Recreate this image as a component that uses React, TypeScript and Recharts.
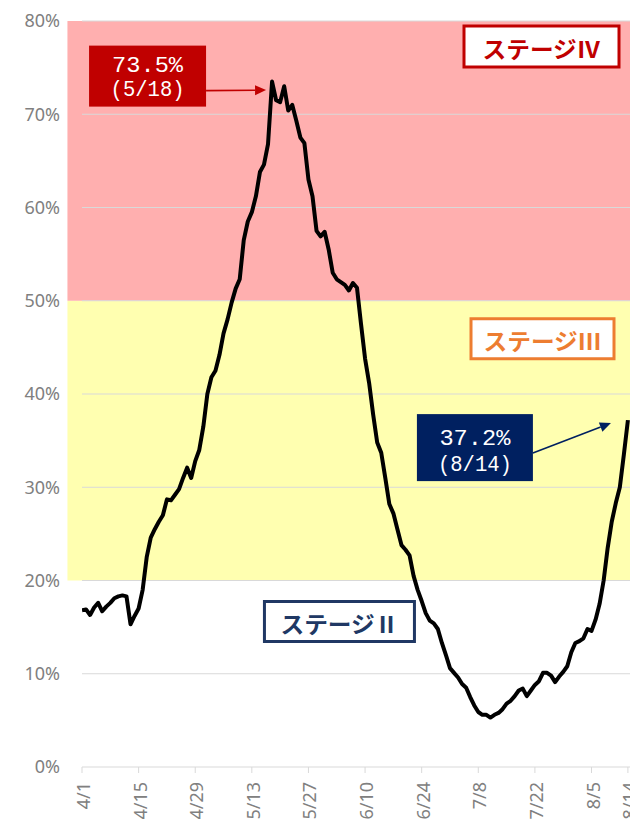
import React from 'react';
import { LineChart, Line, XAxis, YAxis, ReferenceArea, ReferenceLine, ReferenceDot } from 'recharts';

// daily rate (%) from 4/1 to 8/14
const rates = [
  16.8, 16.9, 16.3, 17.1, 17.6, 16.7, 17.2, 17.6, 18.1, 18.3,
  18.4, 18.3, 15.3, 16.2, 17.0, 19.0, 22.5, 24.6, 25.5, 26.3,
  27.0, 28.7, 28.6, 29.2, 29.8, 31.0, 32.1, 31.0, 32.8, 34.0,
  36.5, 40.0, 41.8, 42.5, 44.2, 46.5, 48.0, 49.8, 51.3, 52.3,
  56.5, 58.5, 59.5, 61.2, 63.8, 64.6, 66.8, 73.5, 71.5, 71.3,
  73.0, 70.4, 71.0, 69.3, 67.5, 66.9, 63.0, 61.2, 57.5, 56.9,
  57.4, 55.5, 53.0, 52.3, 52.0, 51.7, 51.1, 51.9, 51.4, 47.5,
  43.8, 41.2, 37.8, 34.8, 33.7, 31.0, 28.2, 27.2, 25.5, 23.8,
  23.3, 22.7, 20.5, 19.0, 17.8, 16.5, 15.7, 15.4, 14.8, 13.3,
  12.0, 10.6, 10.1, 9.6, 8.9, 8.5, 7.5, 6.6, 5.9, 5.6,
  5.6, 5.3, 5.6, 5.8, 6.2, 6.8, 7.1, 7.6, 8.2, 8.4,
  7.6, 8.2, 8.8, 9.2, 10.1, 10.1, 9.8, 9.1, 9.7, 10.2,
  10.8, 12.3, 13.3, 13.5, 13.8, 14.8, 14.6, 15.8, 17.5, 20.0,
  23.5, 26.3, 28.3, 30.0, 33.5, 37.2,
];

// M/D labels, one per day starting 4/1
const dates = rates.map((_, i) => {
  const d = new Date(2021, 3, 1 + i);
  return `${d.getMonth() + 1}/${d.getDate()}`;
});

const tickDays = [0, 14, 28, 42, 56, 70, 84, 98, 112, 126, 135];
const yTicks = [0, 10, 20, 30, 40, 50, 60, 70, 80];
const gridValues = [10, 20, 30, 40, 50, 60, 70, 80];

const stageNames = ['ステージⅡ', 'ステージⅢ', 'ステージⅣ'];
const stageLow = [0, 20, 50];
const stageHigh = [20, 50, 80];
const stageFill = ['#ffffff', '#ffffb0', '#ffafaf'];
const stageColor = ['#203864', '#ed7d31', '#c00000'];

const chartData = rates.map((rate, day) => ({ day, rate }));

const peakIdx = rates.indexOf(Math.max(...rates));
const lastIdx = rates.length - 1;

const fmtPct = (v: number) => `${v.toFixed(1)}%`;

const Arrow = ({ x1, y1, x2, y2, color }: any) => {
  const a = Math.atan2(y2 - y1, x2 - x1);
  const len = 11;
  const half = 5;
  const bx = x2 - len * Math.cos(a);
  const by = y2 - len * Math.sin(a);
  const pts = [
    [x2, y2],
    [bx + half * Math.sin(a), by - half * Math.cos(a)],
    [bx - half * Math.sin(a), by + half * Math.cos(a)],
  ]
    .map(p => p.join(','))
    .join(' ');
  return (
    <g>
      <line x1={x1} y1={y1} x2={bx} y2={by} stroke={color} strokeWidth={1.6} />
      <polygon points={pts} fill={color} />
    </g>
  );
};

// callout box + arrow, placed relative to the data point
const Callout = ({ cx, cy, value, date, color, box, tip }: any) => {
  const bx = cx + box.dx;
  const by = cy + box.dy;
  const midX = bx + box.w / 2;
  return (
    <g>
      <rect x={bx} y={by} width={box.w} height={box.h} fill={color} />
      <text
        x={midX}
        y={by + box.l1}
        textAnchor="middle"
        dominantBaseline="central"
        fill="#ffffff"
        fontSize={22}
        fontFamily="Liberation Mono"
        textLength={71}
        lengthAdjust="spacingAndGlyphs"
      >
        {fmtPct(value)}
      </text>
      <text
        x={midX}
        y={by + box.l2}
        textAnchor="middle"
        dominantBaseline="central"
        fill="#ffffff"
        fontSize={22}
        fontFamily="Liberation Mono"
        textLength={74}
        lengthAdjust="spacingAndGlyphs"
      >
        {`(${date})`}
      </text>
      <Arrow x1={bx + box.w} y1={by + box.ay} x2={cx + tip.dx} y2={cy + tip.dy} color={color} />
    </g>
  );
};

// stage tag placement inside each band (pixel offsets from band's top/left)
const tagLayout = [
  { left: 197, top: 21, w: 150, h: 40 },
  { right: 22, top: 18, w: 143, h: 40 },
  { right: 17, top: 5, w: 155, h: 41 },
];

const StageTag = ({ viewBox, idx }: any) => {
  if (!viewBox) return null;
  const lay: any = tagLayout[idx];
  const x = lay.left !== undefined ? viewBox.x + lay.left : viewBox.x + viewBox.width - lay.right - lay.w;
  const y = viewBox.y + lay.top;
  return (
    <g>
      <rect x={x} y={y} width={lay.w} height={lay.h} fill="#ffffff" stroke={stageColor[idx]} strokeWidth={3} />
      <text
        x={x + lay.w / 2}
        y={y + lay.h / 2 + 1}
        textAnchor="middle"
        dominantBaseline="central"
        fill={stageColor[idx]}
        fontSize={23}
        fontWeight={700}
        fontFamily="Noto Sans CJK JP"
        textLength={118}
        lengthAdjust="spacingAndGlyphs"
      >
        {stageNames[idx]}
      </text>
    </g>
  );
};

const DateTick = (props: any) => {
  const { x, y, payload } = props;
  return (
    <text
      x={x + 1}
      y={y}
      transform={`rotate(-90, ${x + 1}, ${y})`}
      textAnchor="end"
      dominantBaseline="central"
      fill="#808080"
      fontSize={18}
      fontFamily="Noto Sans"
    >
      {dates[payload.value]}
    </text>
  );
};

export default function App() {
  return (
    <div
      style={{
        position: 'fixed',
        left: 0,
        top: 0,
        width: 630,
        height: 819,
        overflow: 'hidden',
        background: '#ffffff',
      }}
    >
      <LineChart width={640} height={860} data={chartData} margin={{ top: 21, right: 4, bottom: 0, left: 0 }}>
        {stageNames.map((_, i) => (
          <ReferenceArea
            key={i}
            x1={-3.6}
            x2={137}
            y1={stageLow[i]}
            y2={stageHigh[i]}
            fill={stageFill[i]}
            fillOpacity={1}
            stroke="none"
            ifOverflow="visible"
            label={(p: any) => <StageTag viewBox={p.viewBox} idx={i} />}
          />
        ))}
        {gridValues.map(v => (
          <ReferenceLine key={v} y={v} stroke="#d9d9d9" strokeWidth={1} />
        ))}
        <XAxis
          type="number"
          dataKey="day"
          domain={[0, 137]}
          ticks={tickDays}
          interval={0}
          allowDataOverflow
          height={93}
          stroke="#d9d9d9"
          tickSize={6}
          tickMargin={9}
          tick={<DateTick />}
        />
        <YAxis
          domain={[0, 80]}
          ticks={yTicks}
          interval={0}
          width={82}
          axisLine={false}
          tickLine={false}
          tickSize={0}
          tickMargin={22}
          tick={{ fill: '#808080', fontSize: 18, fontFamily: 'Noto Sans' }}
          tickFormatter={(v: number) => `${v}%`}
        />
        <Line
          type="linear"
          dataKey="rate"
          stroke="#000000"
          strokeWidth={4}
          strokeLinejoin="round"
          dot={false}
          activeDot={false}
          isAnimationActive={false}
        />
        <ReferenceDot
          x={peakIdx}
          y={rates[peakIdx]}
          r={3}
          ifOverflow="visible"
          shape={(p: any) => (
            <Callout
              cx={p.cx}
              cy={p.cy}
              value={rates[peakIdx]}
              date={dates[peakIdx]}
              color="#c00000"
              box={{ dx: -183, dy: -36, w: 117, h: 61, l1: 21, l2: 45, ay: 45 }}
              tip={{ dx: -6, dy: 8.5 }}
            />
          )}
        />
        <ReferenceDot
          x={lastIdx}
          y={rates[lastIdx]}
          r={3}
          ifOverflow="visible"
          shape={(p: any) => (
            <Callout
              cx={p.cx}
              cy={p.cy}
              value={rates[lastIdx]}
              date={dates[lastIdx]}
              color="#002060"
              box={{ dx: -211, dy: -6, w: 116, h: 67, l1: 25.5, l2: 51, ay: 39 }}
              tip={{ dx: -17, dy: 3 }}
            />
          )}
        />
      </LineChart>
    </div>
  );
}
